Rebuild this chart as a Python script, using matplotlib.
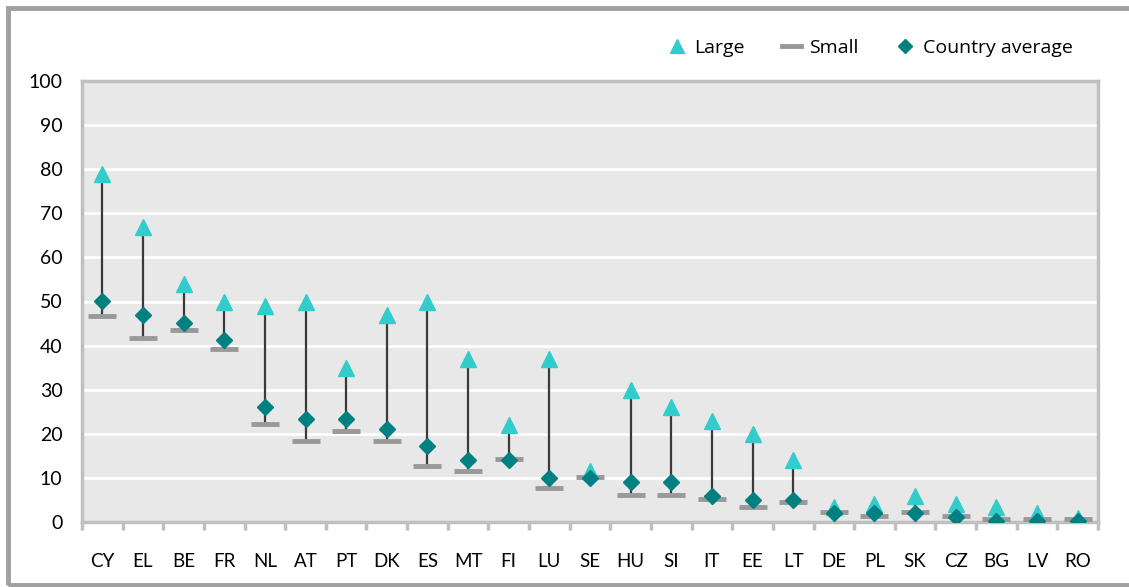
import matplotlib
matplotlib.use("Agg")
import matplotlib.pyplot as plt
from matplotlib.lines import Line2D
from matplotlib.patches import Rectangle
import numpy as np

countries = ["CY", "EL", "BE", "FR", "NL", "AT", "PT", "DK", "ES", "MT", "FI", "LU", "SE",
             "HU", "SI", "IT", "EE", "LT", "DE", "PL", "SK", "CZ", "BG", "LV", "RO"]
large = [79, 67, 54, 50, 49, 50, 35, 47, 50, 37, 22, 37, 11.5,
         30, 26, 23, 20, 14, 3.5, 4, 6, 4, 3.3, 2, 1]
small = [46.7, 41.7, 43.5, 39.3, 22.3, 18.3, 20.6, 18.3, 12.6, 11.6, 14.3, 7.6, 10.3,
         6.2, 6.2, 5.3, 3.5, 4.5, 2.2, 1.4, 2.2, 1.4, 0.6, 0.6, 0.6]
average = [50.2, 47, 45.2, 41.2, 26, 23.4, 23.4, 21.1, 17.2, 14, 14, 10, 10,
           9.1, 9.1, 5.9, 5, 5, 2, 2, 2, 1.1, 0.3, 0.2, 0.2]
yticks = [0, 10, 20, 30, 40, 50, 60, 70, 80, 90, 100]

plt.rcParams['font.family'] = ['Lato', 'DejaVu Sans']

W, H = 1129, 587
fig = plt.figure(figsize=(W / 100, H / 100), dpi=100)
ax = fig.add_axes([82 / W, 1 - 522 / H, (1098 - 82) / W, (522 - 81) / H])
ax.set_facecolor('#E8E8E8')

x = np.arange(len(countries))
lo = np.minimum(large, small)
hi = np.maximum(large, small)
ax.vlines(x, lo, hi, color='#3A3A3A', lw=1.6, zorder=2)
ax.plot(x, large, linestyle='none', marker='^', color='#33CCCC', markersize=11, zorder=3)
ax.plot(x, small, linestyle='none', marker='_', color='#999999', markersize=20, mew=3.5, zorder=4)
ax.plot(x, average, linestyle='none', marker='D', color='#008080', markersize=8, zorder=5)

ax.set_ylim(0, 100)
ax.set_xlim(-0.5, len(countries) - 0.5)
ax.set_yticks(yticks)
ax.yaxis.grid(True, color='white', lw=2)
ax.set_axisbelow(True)
ax.set_xticks(x)
ax.set_xticklabels(countries)
ax.set_xticks(np.arange(len(countries) + 1) - 0.5, minor=True)
ax.tick_params(axis='x', which='major', length=0, pad=22, labelsize=13.5, colors='black')
ax.tick_params(axis='x', which='minor', length=6, width=2.5, color='#C0C0C0', direction='out')
ax.tick_params(axis='y', length=0, pad=14, labelsize=14)
for s in ax.spines.values():
    s.set_color('#C0C0C0')
    s.set_linewidth(2.5)

handles = [
    Line2D([], [], linestyle='none', marker='^', color='#33CCCC', markersize=10),
    Line2D([], [], color='#999999', lw=3.5),
    Line2D([], [], linestyle='none', marker='D', color='#008080', markersize=7),
]
fig.legend(handles, ['Large', 'Small', 'Country average'], ncol=3, frameon=False,
           loc='center right', bbox_to_anchor=(1090 / W, 1 - 48 / H),
           prop={'family': ['Open Sans', 'DejaVu Sans'], 'size': 14},
           handlelength=1.0, handletextpad=0.4, columnspacing=1.9)

fig.patches.append(Rectangle((8 / W, 2 / H), (1140 - 8) / W, (579 - 2) / H,
                             transform=fig.transFigure, fill=False,
                             edgecolor='#A0A0A0', lw=3.5, zorder=0))

fig.savefig('out.png', dpi=100)
